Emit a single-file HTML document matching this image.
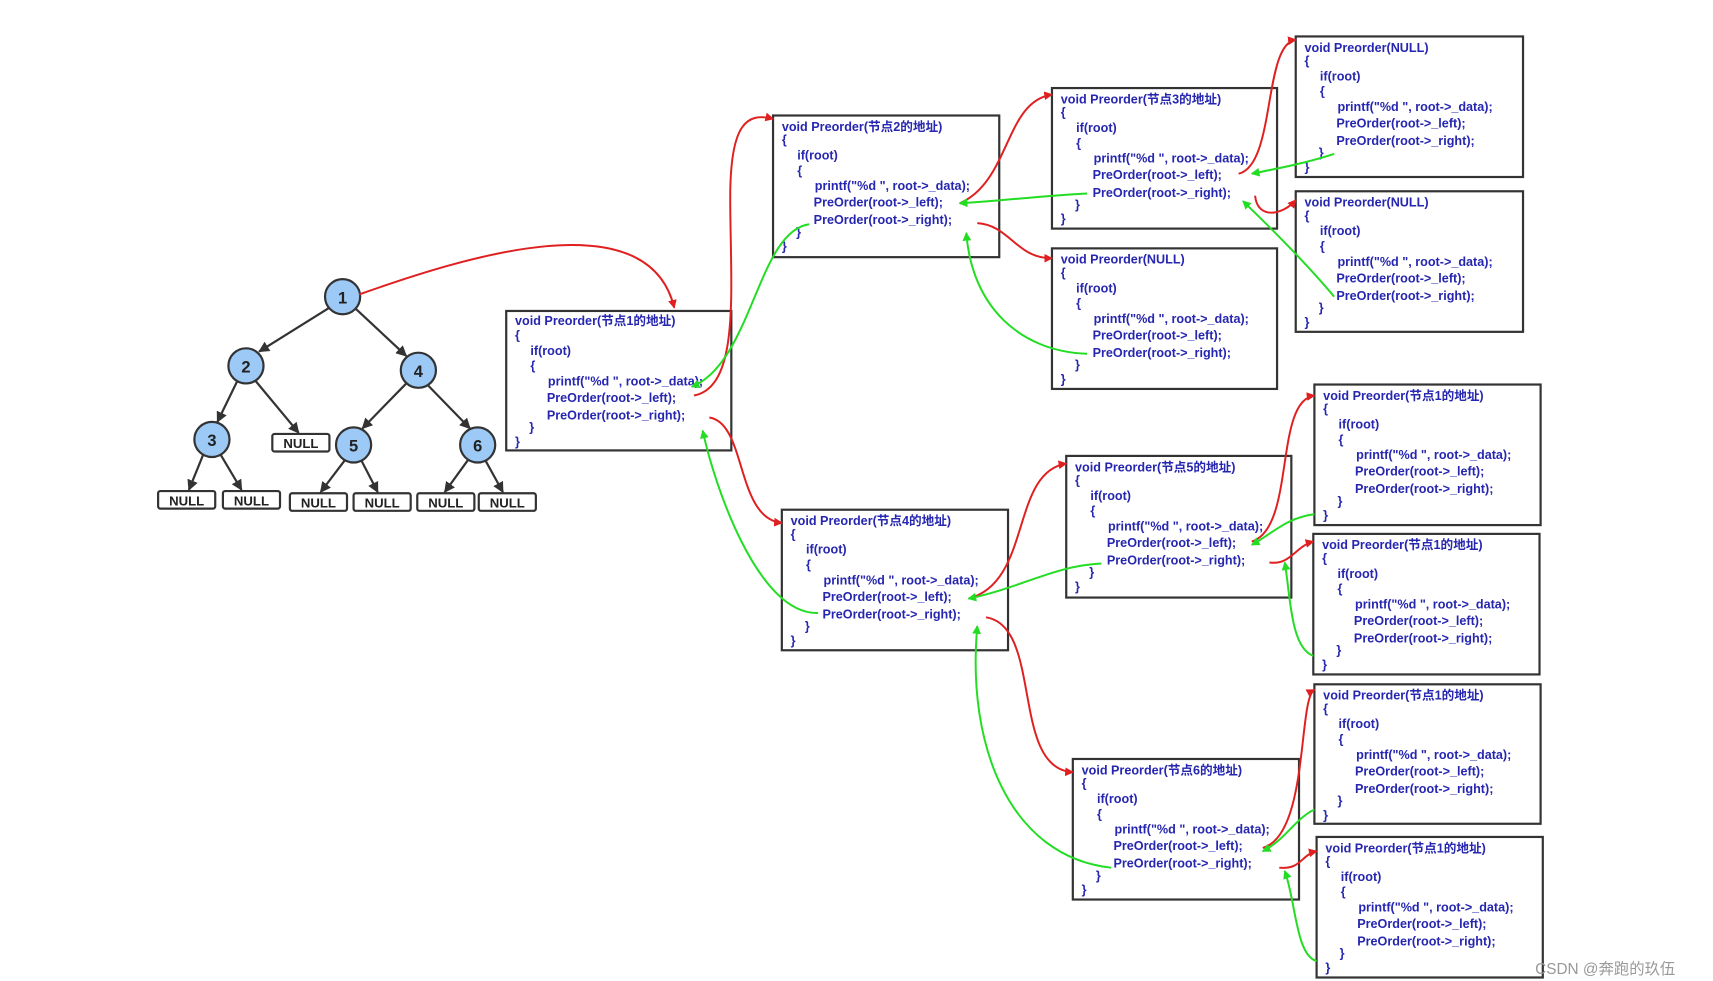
<!DOCTYPE html>
<html><head><meta charset="utf-8"><style>
html,body{margin:0;padding:0;background:#fff;}
svg{display:block;}
.c{font-family:"Liberation Sans","Noto Sans CJK SC",sans-serif;font-size:11.5px;fill:#2626b0;font-weight:bold;}
.t{font-family:"Liberation Sans",sans-serif;font-weight:bold;fill:#222;}
</style></head><body>
<svg width="1713" height="981" viewBox="0 0 1560 893" xmlns="http://www.w3.org/2000/svg">
<defs>
<marker id="ar" markerWidth="8" markerHeight="8" refX="7" refY="4" orient="auto" markerUnits="userSpaceOnUse"><path d="M0,0 L8,4 L0,8 z" fill="#e02020"/></marker>
<marker id="ag" markerWidth="8" markerHeight="8" refX="7" refY="4" orient="auto" markerUnits="userSpaceOnUse"><path d="M0,0 L8,4 L0,8 z" fill="#22dd22"/></marker>
<marker id="ak" markerWidth="10" markerHeight="10" refX="9" refY="5" orient="auto" markerUnits="userSpaceOnUse"><path d="M0,0 L10,5 L0,10 z" fill="#333"/></marker>
<g id="body">
<text class="c" x="8" y="26">{</text>
<text class="c" x="22" y="40">if(root)</text>
<text class="c" x="22" y="54">{</text>
<text class="c" x="38" y="68">printf("%d ", root-&gt;_data);</text>
<text class="c" x="37" y="83">PreOrder(root-&gt;_left);</text>
<text class="c" x="37" y="99">PreOrder(root-&gt;_right);</text>
<text class="c" x="21" y="110">}</text>
<text class="c" x="8" y="123">}</text>
</g>
</defs>
<!-- tree -->
<g stroke="#333" stroke-width="2" fill="none" marker-end="url(#ak)">
<line x1="300" y1="280" x2="236" y2="320"/>
<line x1="324" y1="281" x2="370" y2="324"/>
<line x1="216" y1="347" x2="198" y2="384"/>
<line x1="233" y1="347" x2="272" y2="394"/>
<line x1="370" y1="349" x2="330" y2="390"/>
<line x1="390" y1="351" x2="428" y2="390"/>
<line x1="185" y1="414" x2="172" y2="446"/>
<line x1="201" y1="414" x2="220" y2="446"/>
<line x1="314" y1="419" x2="292" y2="448"/>
<line x1="329" y1="419" x2="344" y2="448"/>
<line x1="426" y1="419" x2="405" y2="448"/>
<line x1="442" y1="419" x2="458" y2="448"/>
</g>
<g fill="#9cc9f5" stroke="#333" stroke-width="2">
<circle cx="312" cy="270" r="16"/><circle cx="224" cy="333" r="16"/><circle cx="381" cy="337" r="16"/>
<circle cx="193" cy="400" r="16"/><circle cx="322" cy="405" r="16"/><circle cx="435" cy="405" r="16"/>
</g>
<g class="t" font-size="15" text-anchor="middle">
<text x="312" y="276">1</text><text x="224" y="339">2</text><text x="381" y="343">4</text>
<text x="193" y="406">3</text><text x="322" y="411">5</text><text x="435" y="411">6</text>
</g>
<g fill="#fff" stroke="#333" stroke-width="2">
<rect x="144" y="447" width="52" height="16" rx="2"/><rect x="203" y="447" width="52" height="16" rx="2"/>
<rect x="248" y="395" width="52" height="16" rx="2"/>
<rect x="264" y="449" width="52" height="16" rx="2"/><rect x="322" y="449" width="52" height="16" rx="2"/>
<rect x="380" y="449" width="52" height="16" rx="2"/><rect x="436" y="449" width="52" height="16" rx="2"/>
</g>
<g class="t" font-size="12" text-anchor="middle">
<text x="170" y="460">NULL</text><text x="229" y="460">NULL</text><text x="274" y="408">NULL</text>
<text x="290" y="462">NULL</text><text x="348" y="462">NULL</text><text x="406" y="462">NULL</text><text x="462" y="462">NULL</text>
</g>
<!-- boxes -->
<g fill="#fff" stroke="#333" stroke-width="2">
<rect x="461" y="283" width="205" height="127"/>
<rect x="704" y="105" width="206" height="129"/>
<rect x="958" y="80" width="205" height="128"/>
<rect x="1180" y="33" width="207" height="128"/>
<rect x="1180" y="174" width="207" height="128"/>
<rect x="958" y="226" width="205" height="128"/>
<rect x="712" y="464" width="206" height="128"/>
<rect x="971" y="415" width="205" height="129"/>
<rect x="1197" y="350" width="206" height="128"/>
<rect x="1196" y="486" width="206" height="128"/>
<rect x="977" y="691" width="206" height="128"/>
<rect x="1197" y="623" width="206" height="127"/>
<rect x="1199" y="762" width="206" height="128"/>
</g>
<g transform="translate(461,283)"><text class="c" x="8" y="13">void Preorder(节点1的地址)</text><use href="#body"/></g>
<g transform="translate(704,105)"><text class="c" x="8" y="14">void Preorder(节点2的地址)</text><use href="#body"/></g>
<g transform="translate(958,80)"><text class="c" x="8" y="14">void Preorder(节点3的地址)</text><use href="#body"/></g>
<g transform="translate(1180,33)"><text class="c" x="8" y="14">void Preorder(NULL)</text><use href="#body"/></g>
<g transform="translate(1180,174)"><text class="c" x="8" y="14">void Preorder(NULL)</text><use href="#body"/></g>
<g transform="translate(958,226)"><text class="c" x="8" y="14">void Preorder(NULL)</text><use href="#body"/></g>
<g transform="translate(712,464)"><text class="c" x="8" y="14">void Preorder(节点4的地址)</text><use href="#body"/></g>
<g transform="translate(971,415)"><text class="c" x="8" y="14">void Preorder(节点5的地址)</text><use href="#body"/></g>
<g transform="translate(1197,350)"><text class="c" x="8" y="14">void Preorder(节点1的地址)</text><use href="#body"/></g>
<g transform="translate(1196,486)"><text class="c" x="8" y="14">void Preorder(节点1的地址)</text><use href="#body"/></g>
<g transform="translate(977,691)"><text class="c" x="8" y="14">void Preorder(节点6的地址)</text><use href="#body"/></g>
<g transform="translate(1197,623)"><text class="c" x="8" y="14">void Preorder(节点1的地址)</text><use href="#body"/></g>
<g transform="translate(1199,762)"><text class="c" x="8" y="14">void Preorder(节点1的地址)</text><use href="#body"/></g>
<!-- red arrows -->
<g stroke="#e02020" stroke-width="1.8" fill="none" marker-end="url(#ar)">
<path d="M327,268 C420,235 590,180 614,280"/>
<path d="M632,360 C675,352 665,260 665,180 C665,112 680,102 704,108"/>
<path d="M646,380 C680,385 670,472 712,476"/>
<path d="M874,185 C920,165 915,92 958,86"/>
<path d="M890,203 C920,205 925,235 958,235"/>
<path d="M1128,158 C1162,150 1150,40 1180,36"/>
<path d="M1143,178 C1145,200 1168,196 1180,182"/>
<path d="M882,545 C940,530 920,430 971,422"/>
<path d="M898,562 C950,570 920,700 977,703"/>
<path d="M1140,493 C1180,480 1160,365 1197,360"/>
<path d="M1156,512 C1175,515 1180,497 1196,493"/>
<path d="M1150,772 C1192,760 1182,636 1197,628"/>
<path d="M1165,790 C1185,792 1185,778 1199,775"/>
</g>
<!-- green arrows -->
<g stroke="#22dd22" stroke-width="1.8" fill="none" marker-end="url(#ag)">
<path d="M737,204 C690,210 685,330 630,352"/>
<path d="M745,558 C690,560 650,440 640,392"/>
<path d="M990,176 C950,178 920,182 874,185"/>
<path d="M990,322 C930,320 885,280 880,212"/>
<path d="M1215,140 C1190,148 1170,152 1140,158"/>
<path d="M1215,270 C1190,240 1160,210 1132,183"/>
<path d="M1003,513 C960,515 930,535 882,545"/>
<path d="M1012,790 C920,780 880,680 890,570"/>
<path d="M1197,468 C1170,472 1160,485 1140,496"/>
<path d="M1196,597 C1175,590 1175,540 1170,512"/>
<path d="M1197,737 C1180,745 1170,765 1150,775"/>
<path d="M1199,875 C1180,870 1180,820 1170,793"/>
</g>
<text x="1398" y="887" font-family="Liberation Sans,'Noto Sans CJK SC',sans-serif" font-size="14" fill="#999">CSDN @奔跑的玖伍</text>
</svg>
</body></html>
